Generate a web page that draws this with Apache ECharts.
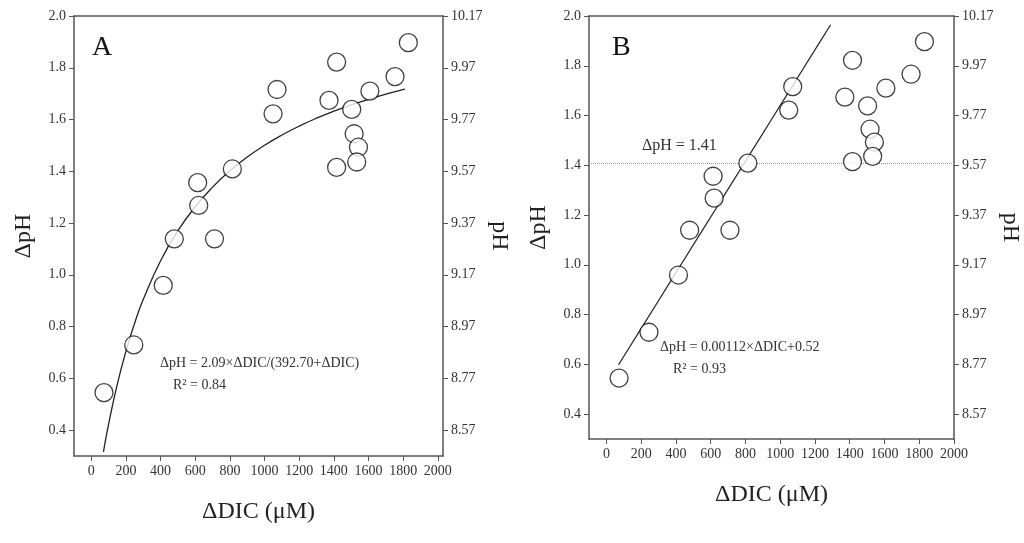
<!DOCTYPE html>
<html><head><meta charset="utf-8">
<script src="https://cdn.jsdelivr.net/npm/echarts@6/dist/echarts.min.js"></script>
<style>html,body{margin:0;padding:0;background:#fff}#c{width:1024px;height:543px}</style>
</head><body><div id="c"></div>
<script>
const dic = [73,245,415,479,614,620,711,814,1049,1072,1372,1416,1416,1503,1517,1542,1532,1608,1753,1830];
const dpH = [0.545,0.729,0.959,1.139,1.356,1.268,1.139,1.409,1.622,1.716,1.674,1.822,1.415,1.639,1.545,1.493,1.436,1.710,1.766,1.897];
const xTicks = [0,200,400,600,800,1000,1200,1400,1600,1800,2000];
const yTicks = [0.4,0.6,0.8,1.0,1.2,1.4,1.6,1.8,2.0];
const pHTicks = [8.57,8.77,8.97,9.17,9.37,9.57,9.77,9.97,10.17];
const curveX = [70,100,150,200,250,300,400,500,600,700,800,900,1000,1100,1200,1300,1400,1500,1600,1700,1810];
const lineX = [70,1290];
const threshold = 1.41;

const font = 'Liberation Serif';
const pts = dic.map((x,i)=>[x,dpH[i]]);
const curve = curveX.map(x=>[x, 2.09*x/(392.70+x)]);
const lin = lineX.map(x=>[x, 0.00112*x+0.52]);

function xAxis(gi,max){return {gridIndex:gi,type:'value',min:-100,max:max,
  name:'ΔDIC (μM)',nameLocation:'middle',nameGap:44,nameTextStyle:{fontFamily:font,fontSize:24,color:'#222'},
  axisLine:{onZero:false,lineStyle:{color:'#555',width:1.5}},
  axisTick:{customValues:xTicks,length:5,lineStyle:{color:'#555'}},
  axisLabel:{customValues:xTicks,formatter:v=>String(v),fontFamily:font,fontSize:14,color:'#333',margin:8},
  splitLine:{show:false}};}
function yL(gi){return {gridIndex:gi,type:'value',min:0.3,max:2.0,
  name:'ΔpH',nameLocation:'middle',nameGap:38,nameTextStyle:{fontFamily:font,fontSize:24,color:'#222'},
  axisLine:{show:true,onZero:false,lineStyle:{color:'#555',width:1.5}},
  axisTick:{show:true,customValues:yTicks,length:5,lineStyle:{color:'#555'}},
  axisLabel:{customValues:yTicks,formatter:v=>v.toFixed(1),fontFamily:font,fontSize:14,color:'#333'},
  splitLine:{show:false}};}
function yR(gi){return {gridIndex:gi,type:'value',position:'right',min:8.47,max:10.17,
  name:'pH',nameLocation:'middle',nameGap:44,nameRotate:-90,nameTextStyle:{fontFamily:font,fontSize:24,color:'#222'},
  axisLine:{show:true,onZero:false,lineStyle:{color:'#555',width:1.5}},
  axisTick:{show:true,customValues:pHTicks,length:5,lineStyle:{color:'#555'}},
  axisLabel:{customValues:pHTicks,formatter:v=>v.toFixed(2),fontFamily:font,fontSize:14,color:'#333'},
  splitLine:{show:false}};}
const topAxis=(gi,max)=>({gridIndex:gi,type:'value',position:'top',min:-100,max:max,axisLine:{onZero:false,lineStyle:{color:'#555',width:1.5}},axisTick:{show:false},axisLabel:{show:false},splitLine:{show:false}});
const scat=(xi,yi)=>({type:'scatter',xAxisIndex:xi,yAxisIndex:yi,data:pts,symbolSize:18,z:5,
  itemStyle:{color:'#fff',borderColor:'#111',borderWidth:1.3}});

const chart = echarts.init(document.getElementById('c'));
chart.setOption({
  animation:false,
  grid:[{left:74,right:581,top:16,bottom:87},{left:589,right:70,top:16,bottom:104}],
  xAxis:[xAxis(0,2030),xAxis(1,2000),topAxis(0,2030),topAxis(1,2000)],
  yAxis:[yL(0),yR(0),yL(1),yR(1)],
  series:[
    {type:'line',xAxisIndex:0,yAxisIndex:0,data:curve,smooth:true,showSymbol:false,lineStyle:{color:'#222',width:1.3}},
    scat(0,0),
    {type:'line',xAxisIndex:1,yAxisIndex:2,data:lin,showSymbol:false,lineStyle:{color:'#222',width:1.3},
      markLine:{symbol:'none',silent:true,label:{show:false},lineStyle:{color:'#999',type:'dotted',width:1},data:[{yAxis:threshold}]}},
    scat(1,2)
  ],
  graphic:[
    {type:'text',left:92,top:34,style:{text:'A',font:'28px "Liberation Serif"',fill:'#111'}},
    {type:'text',left:612,top:34,style:{text:'B',font:'28px "Liberation Serif"',fill:'#111'}},
    {type:'text',left:160,top:356,style:{text:'ΔpH = 2.09×ΔDIC/(392.70+ΔDIC)',font:'14px "Liberation Serif"',fill:'#333'}},
    {type:'text',left:173,top:378,style:{text:'R² = 0.84',font:'14px "Liberation Serif"',fill:'#333'}},
    {type:'text',left:660,top:340,style:{text:'ΔpH = 0.00112×ΔDIC+0.52',font:'14px "Liberation Serif"',fill:'#333'}},
    {type:'text',left:673,top:362,style:{text:'R² = 0.93',font:'14px "Liberation Serif"',fill:'#333'}},
    {type:'text',left:642,top:138,style:{text:'ΔpH = 1.41',font:'16px "Liberation Serif"',fill:'#333'}}
  ]
});
</script></body></html>
